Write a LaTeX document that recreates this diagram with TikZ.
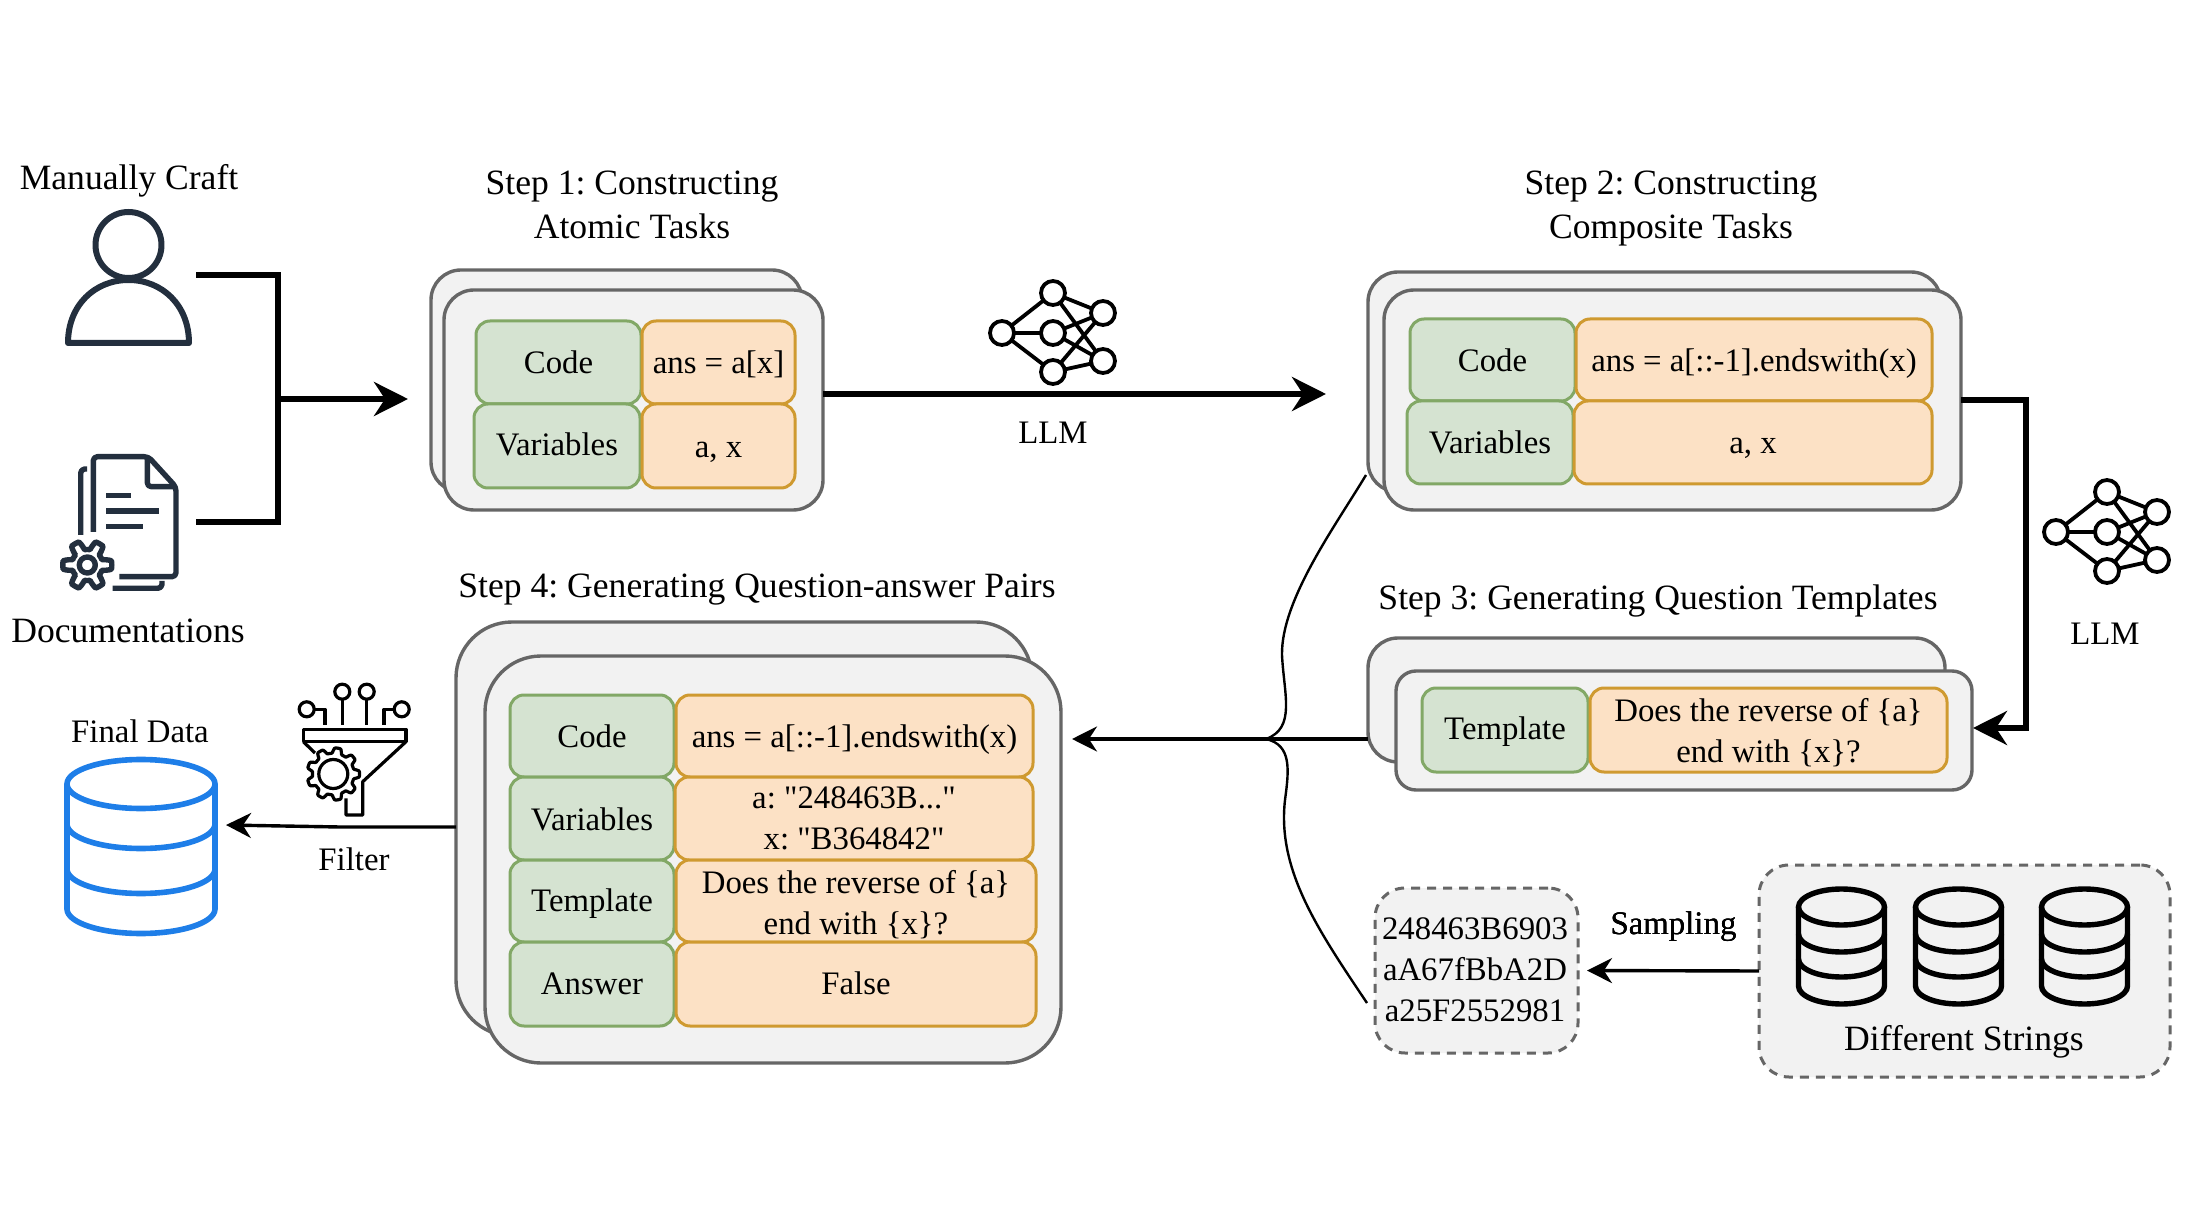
\documentclass[tikz,border=0pt]{standalone}
\usepackage{fontspec}
\setmainfont{Liberation Serif}[Ligatures=TeXOff]
\usetikzlibrary{arrows.meta}
\frenchspacing
\definecolor{boxgray}{HTML}{666666}
\definecolor{boxfill}{HTML}{F2F2F2}
\definecolor{greenfill}{HTML}{D5E3D1}
\definecolor{greenline}{HTML}{82A866}
\definecolor{orangefill}{HTML}{FCE1C5}
\definecolor{orangeline}{HTML}{CF9A30}
\definecolor{iconink}{HTML}{232F3E}
\definecolor{dbblue}{HTML}{1E7EE8}
\tikzset{
	panel/.style={draw=boxgray,fill=boxfill,line width=1.7pt,rounded corners=15pt,inner sep=0pt,outer sep=0pt},
	dashpanel/.style={panel,dash pattern=on 4.5pt off 3.5pt,line width=1.5pt},
	keycell/.style={draw=greenline,fill=greenfill,line width=1.5pt,rounded corners=7pt,inner sep=0pt,outer sep=0pt,txt,oneline},
	valcell/.style={draw=orangeline,fill=orangefill,line width=1.5pt,rounded corners=7pt,inner sep=0pt,outer sep=0pt,txt,oneline},
	twolines/.style={draw=orangeline,fill=orangefill,line width=1.5pt,rounded corners=7pt,inner sep=0pt,outer sep=0pt,txt},
	txt/.style={font=\fontsize{16.4}{20.5}\selectfont,align=center,inner sep=0pt},
	oneline/.style={text height=15pt,text depth=3.5pt},
	title/.style={font=\fontsize{17.8}{22}\selectfont,align=center,inner sep=0pt},
	bigline/.style={line width=2.7pt},
	bigtip/.style={bigline,-{Stealth[length=17pt,width=17pt]}},
	smalltip/.style={line width=1.7pt,-{Stealth[length=12.5pt,width=12.5pt]}},
	thincurve/.style={line width=1.2pt},
	nncirc/.style={draw,circle,line width=1.9pt,minimum size=12pt,inner sep=0pt,outer sep=0pt},
	nnline/.style={line width=1.9pt},
	docink/.style={draw=iconink,line width=2.7pt,line join=round},
	filterink/.style={line width=1.6pt,line join=round},
	bluedb/.style={draw=dbblue,line width=2.8pt},
	blackdb/.style={draw=black,line width=2.7pt}
}
% rounded box given by its corners: style, name, x1, y1, x2, y2, text
\newcommand{\rbox}[7]{\node[#1,minimum width={(#5-#3)*0.5pt},minimum height={(#6-#4)*0.5pt}] (#2) at ({(#3+#5)/2},{(#4+#6)/2}) {#7};}
% network icon: prefix, shift
\newcommand{\nnicon}[3]{
	\begin{scope}[shift={(#2,#3)}]
		\node[nncirc] (#1a) at (1002,333) {};
		\node[nncirc] (#1b) at (1053,293) {};
		\node[nncirc] (#1c) at (1053,333) {};
		\node[nncirc] (#1d) at (1053,372) {};
		\node[nncirc] (#1e) at (1103,313) {};
		\node[nncirc] (#1f) at (1103,361) {};
		\foreach \p in {b,c,d} \draw[nnline] (#1a)--(#1\p);
		\foreach \p in {b,c,d} {
			\draw[nnline] (#1\p)--(#1e);
			\draw[nnline] (#1\p)--(#1f);
		}
	\end{scope}
}
% database icon: style, cx, cy, rx, ry, side heights of the inner bands, bottom
\newcommand{\dbicon}[7]{
	\draw[#1] (#2,#3) ellipse[x radius=#4,y radius=#5];
	\draw[#1] ({#2-#4},#3)--({#2-#4},#7) arc[start angle=180,end angle=0,x radius=#4,y radius=#5]--({#2+#4},#3);
	\foreach \yy in {#6} \draw[#1] ({#2-#4},\yy) arc[start angle=180,end angle=0,x radius=#4,y radius=#5];
}
% gear outline: style, cx, cy, radius, tooth height, teeth
\newcommand{\gear}[6]{
	\draw[#1] plot[domain=0:360,samples=145] ({#2+(#4+#5*max(-1,min(1,2*cos(#6*\x))))*cos(\x)},{#3+(#4+#5*max(-1,min(1,2*cos(#6*\x))))*sin(\x)}) -- cycle;
}
\begin{document}
\begin{tikzpicture}[x=0.5pt,y=-0.5pt]
	\useasboundingbox (0,0) rectangle (2186,1208);
	% sources
	\node[title] (craft) at (129,181) {Manually Craft};
	\node[title] (docs) at (128,631) {Documentations};
	\draw[docink,line width=3pt] (128.5,245) circle(33);
	\draw[docink,line width=3pt] (68,343) .. controls (68,305) and (95,280) .. (128.5,280) .. controls (162,280) and (189,305) .. (189,343) -- cycle;
	\draw[docink,rounded corners=2pt] (93.3,532) -- (93.3,456.7) -- (148.3,456.7) -- (176,487) -- (176,576.7) -- (119.3,576.7);
	\draw[docink,rounded corners=2pt] (147.3,456.7) -- (147.3,486.7) -- (176,486.7);
	\draw[docink,rounded corners=2pt] (80.7,535) -- (80.7,469) -- (87,469);
	\draw[docink,rounded corners=2pt] (112.7,588.3) -- (162,588.3) -- (162,581);
	\draw[docink] (106,495.7)--(130.7,495.7) (106,511)--(159,511) (106,526.7)--(143.3,526.7);
	\gear{docink}{87.3}{565}{20}{4.5}{6}
	\draw[docink] (87.3,565) circle(8);
	% step 1
	\node[title] (step1) at (632,205) {Step 1: Constructing\\Atomic Tasks};
	\rbox{panel}{back1}{431}{270}{802}{492}{}
	\rbox{panel}{front1}{444}{290}{823}{510}{}
	\rbox{keycell}{code1}{476}{321}{641}{404}{Code}
	\rbox{valcell}{ans1}{642}{321}{795}{404}{ans = a[x]}
	\rbox{keycell}{vars1}{474}{404}{640}{488}{\raisebox{1pt}{Variables}}
	\rbox{valcell}{args1}{642}{404}{795}{488}{a, x}
	% step 2
	\node[title] (step2) at (1671,209) {Step 2: Constructing\\Composite Tasks};
	\rbox{panel}{back2}{1368}{272}{1941}{492}{}
	\rbox{panel}{front2}{1384}{290}{1961}{510}{}
	\rbox{keycell}{code2}{1410}{319}{1575}{401}{Code}
	\rbox{valcell}{ans2}{1576}{319}{1932}{401}{ans = a[::-1].endswith(x)}
	\rbox{keycell}{vars2}{1407}{401}{1573}{484}{Variables}
	\rbox{valcell}{args2}{1574}{401}{1932}{484}{a, x}
	% step 3
	\node[title] (step3) at (1658,601) {Step 3: Generating Question Templates};
	\rbox{panel}{back3}{1368}{638}{1945}{762}{}
	\rbox{panel,rounded corners=10pt}{front3}{1396}{671}{1972}{790}{}
	\rbox{keycell}{tmpl3}{1422}{688}{1588}{772}{\raisebox{1.2pt}{Template}}
	\rbox{twolines}{ques3}{1590}{688}{1947}{772}{\rule{0pt}{14pt}Does the reverse of \{a\}\\end with \{x\}?}
	% step 4
	\node[title] (step4) at (757,590) {Step 4: Generating Question-answer Pairs};
	\rbox{panel,rounded corners=28pt}{back4}{456}{622}{1032}{1036}{}
	\rbox{panel,rounded corners=28pt}{front4}{485}{656}{1061}{1063}{}
	\rbox{keycell}{code4}{510}{695}{674}{777}{Code}
	\rbox{valcell}{ans4}{676}{695}{1033}{777}{ans = a[::-1].endswith(x)}
	\rbox{keycell}{vars4}{510}{777}{674}{860}{Variables}
	\rbox{twolines}{args4}{675}{777}{1033}{860}{a: "248463B..."\\x: "B364842"}
	\rbox{keycell}{tmpl4}{510}{860}{674}{942}{\raisebox{0.6pt}{Template}}
	\rbox{twolines}{ques4}{676}{860}{1036}{942}{\rule{0pt}{15.5pt}Does the reverse of \{a\}\\end with \{x\}?}
	\rbox{keycell}{answ4}{510}{942}{674}{1026}{\raisebox{0.6pt}{Answer}}
	\rbox{valcell}{fals4}{676}{942}{1036}{1026}{\raisebox{0.6pt}{False}}
	% strings
	\rbox{dashpanel}{samp}{1375}{888}{1578}{1053}{}
	\node[txt] (samptxt) at (1475,969.5) {248463B6903\\aA67fBbA2D\\a25F2552981};
	\rbox{dashpanel}{diffstr}{1759}{865}{2170}{1077}{}
	\node[title] (difflab) at (1964,1042) {Different Strings};
	\foreach \cx in {1841.5,1958.5,2084.5} \dbicon{blackdb}{\cx}{907}{43}{18}{934,959}{986}
	\node[txt] (samplab) at (1673.5,927) {Sampling};
	% final data and filter
	\node[txt] (finallab) at (140,731) {Final Data};
	\dbicon{bluedb}{141}{784}{74}{24.5}{824,869}{909}
	\node[txt] (filterlab) at (354,859) {Filter};
	\foreach \cx in {342.3,366.7} {
		\draw[filterink] (\cx,691.7) circle(7.5);
		\draw[filterink] (\cx,699.2)--(\cx,725);
	}
	\draw[filterink] (306.7,709.3) circle(7.5);
	\draw[filterink] (314.2,709.3)--(325,709.3)--(325,725);
	\draw[filterink] (401.7,709.3) circle(7.5);
	\draw[filterink] (394.2,709.3)--(384,709.3)--(384,725);
	\draw[filterink] (303.3,729.3) rectangle (406,741.7);
	\draw[filterink] (303.3,741.7)--(315,753);
	\draw[filterink] (406,741.7)--(362.7,781.7)--(362.7,815)--(346,815)--(346,798.3);
	\gear{filterink,fill=white}{333.3}{774}{23.5}{2.7}{9}
	\draw[filterink] (333.3,774) circle(14.5);
	% network icons
	\node[txt] (llm1) at (1053,433) {LLM};
	\node[txt] (llm2) at (2105,634) {LLM};
	\nnicon{na}{0}{0}
	\nnicon{nb}{1054}{199}
	% connectors
	\coordinate (craftend) at (196,275);
	\coordinate (docsend) at (196,522);
	\coordinate (joint) at (278,399);
	\coordinate (tip1) at (408,399);
	\coordinate (tip2) at (1326,394);
	\coordinate (side3) at (2026,728);
	\coordinate (tip3) at (1973,728);
	\coordinate (merge) at (1266,739);
	\coordinate (tip4) at (1072,739);
	\coordinate (up2) at (1366,475);
	\coordinate (down5) at (1367,1003);
	\coordinate (filterout) at (340,827);
	\coordinate (tipdb) at (226,825);
	\draw[bigline] (craftend) -| (joint) |- (docsend);
	\draw[bigtip] (joint)--(tip1);
	\draw[bigtip] (front1.east |- tip2)--(tip2);
	\draw[bigtip] (front2.east) -| (side3)--(tip3);
	\draw[smalltip] (back3.west |- merge)--(tip4);
	\draw[thincurve] (up2) .. controls (1336,525) and (1281,600) .. (1282,655) .. controls (1284,695) and (1296,728) .. (merge);
	\draw[thincurve] (merge) .. controls (1292,745) and (1289,770) .. (1285,800) .. controls (1277,870) and (1318,930) .. (down5);
	\draw[smalltip] (back4.west |- filterout)--(filterout)--(tipdb);
	\draw[smalltip,shorten >=4.5pt] (diffstr.west)--(samp.east);
\end{tikzpicture}
\end{document}
